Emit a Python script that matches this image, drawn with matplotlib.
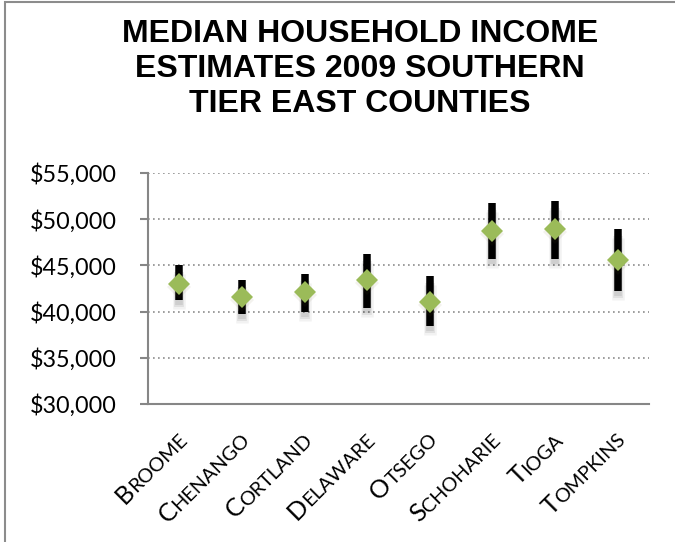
import matplotlib
matplotlib.use("Agg")
import matplotlib.pyplot as plt
import matplotlib.transforms as mtransforms
from matplotlib.patches import Rectangle

# datos
counties = ["BROOME", "CHENANGO", "CORTLAND", "DELAWARE",
            "OTSEGO", "SCHOHARIE", "TIOGA", "TOMPKINS"]
high = [45000, 43370, 44100, 46240, 43800, 51710, 52000, 48960]
low = [41230, 39710, 39920, 40430, 38470, 45730, 45700, 42210]
median = [43000, 41560, 42100, 43370, 41090, 48730, 48910, 45540]
yticks = [30000, 35000, 40000, 45000, 50000, 55000]

fig = plt.figure(figsize=(6.75, 5.42), dpi=100)
ax = fig.add_axes([148 / 675, 1 - 404 / 542, 501 / 675, 231 / 542])

x = [i + 0.5 for i in range(len(counties))]

# sombra difusa debajo de las barras
for dy, a, w in [(-9, 0.05, 9), (-7, 0.07, 7), (-5, 0.08, 5.5)]:
    tr = mtransforms.offset_copy(ax.transData, fig=fig, x=0, y=dy, units="dots")
    ax.vlines(x, low, high, colors="black", alpha=a, linewidth=w,
              transform=tr, zorder=2)

ax.vlines(x, low, high, colors="black", linewidth=5.4, zorder=3)

trm = mtransforms.offset_copy(ax.transData, fig=fig, x=0, y=-3, units="dots")
ax.plot(x, median, "D", color="#6b5a2a", alpha=0.08, markersize=12,
        markeredgewidth=0, transform=trm, zorder=3)
ax.plot(x, median, "D", color="#9BBB59", markersize=11.5, markeredgewidth=0,
        zorder=4)

ax.set_xlim(0, len(counties))
ax.set_ylim(30000, 55000)
ax.set_yticks(yticks)
ax.set_yticklabels(["${:,.0f}".format(v) for v in yticks],
                   fontfamily="Lato", fontsize=16.8)
ax.set_xticks([])
ax.yaxis.grid(True, linestyle=(0, (1, 2)), color="#8c8c8c", linewidth=1.2)
ax.set_axisbelow(True)

for s in ["top", "right"]:
    ax.spines[s].set_visible(False)
for s in ["left", "bottom"]:
    ax.spines[s].set_color("#868686")
    ax.spines[s].set_linewidth(1.5)
ax.tick_params(axis="y", length=6, width=1.5, color="#868686", pad=16.5)

# etiquetas en versalitas
small, big = 14.3, 18.2
renderer = fig.canvas.get_renderer()
base = mtransforms.blended_transform_factory(ax.transData, ax.transAxes)
for xi, name in zip(x, counties):
    tr = base + mtransforms.ScaledTranslation(0.09, -0.37, fig.dpi_scale_trans)
    ax.text(xi, 0, name[1:], transform=tr, rotation=45,
            rotation_mode="anchor", ha="right", va="baseline",
            fontsize=small, fontfamily="Lato")
    tmp = fig.text(0, 0, name[1:], fontsize=small, fontfamily="Lato")
    w = tmp.get_window_extent(renderer).width / fig.dpi
    tmp.remove()
    d = w * 0.7071
    tr1 = base + mtransforms.ScaledTranslation(0.09 - d, -0.37 - d,
                                               fig.dpi_scale_trans)
    ax.text(xi, 0, name[0], transform=tr1, rotation=45,
            rotation_mode="anchor", ha="right", va="baseline",
            fontsize=big, fontfamily="Lato")

fig.text(360 / 675, 1 - 69 / 542,
         "MEDIAN HOUSEHOLD INCOME\nESTIMATES 2009 SOUTHERN\nTIER EAST COUNTIES",
         ha="center", va="center", fontsize=23, fontweight="bold",
         fontfamily="Liberation Sans", linespacing=1.22)

# borde del grafico
fig.patches.append(Rectangle((5 / 675, -0.1), 1.0, 1 - 2 / 542 + 0.1,
                             transform=fig.transFigure, fill=False,
                             edgecolor="#8c8c8c", linewidth=1.5))

plt.savefig("out.png", dpi=100)
